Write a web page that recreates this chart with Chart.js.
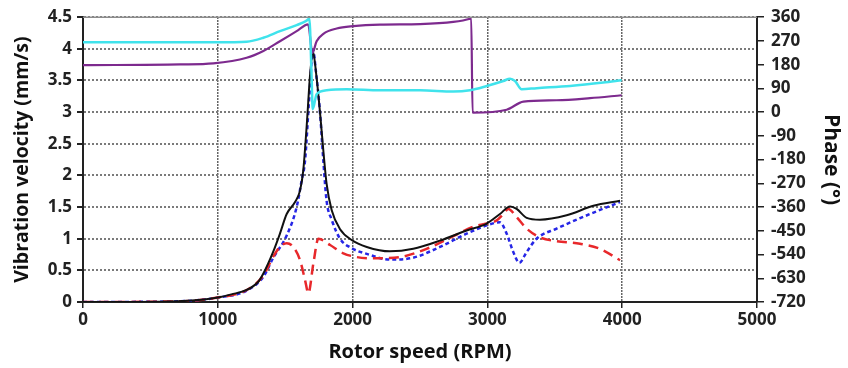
<!DOCTYPE html>
<html>
<head>
<meta charset="utf-8">
<script src="https://cdn.jsdelivr.net/npm/chart.js@4"></script>
<style>
  html, body { margin: 0; padding: 0; background: #fff; }
  #wrap { width: 848px; height: 368px; }
</style>
</head>
<body>
<div id="wrap"><canvas id="rotorChart" width="848" height="368"></canvas></div>
<script>
// Vibration velocity (mm/s), left axis
const rpmBlack = [0, 400, 700, 900, 1000, 1100, 1214, 1300, 1338, 1412, 1461, 1511, 1573, 1610, 1634, 1660, 1685, 1706, 1730, 1758, 1783, 1807, 1845, 1907, 1993, 2105, 2277, 2450, 2648, 2846, 2995, 3093, 3168, 3217, 3291, 3390, 3588, 3786, 3984];
const velBlack = [0, 0, 0.01, 0.04, 0.07, 0.12, 0.19, 0.32, 0.45, 0.8, 1.08, 1.39, 1.58, 1.76, 2.08, 2.8, 3.6, 3.96, 3.6, 3.0, 2.39, 1.87, 1.45, 1.15, 0.98, 0.87, 0.8, 0.84, 0.97, 1.13, 1.24, 1.39, 1.51, 1.47, 1.33, 1.3, 1.37, 1.52, 1.6];

const rpmRed = [0, 700, 1000, 1214, 1338, 1412, 1461, 1511, 1560, 1610, 1647, 1672, 1709, 1746, 1833, 1931, 2030, 2154, 2351, 2549, 2747, 2896, 2995, 3069, 3118, 3155, 3217, 3291, 3390, 3514, 3687, 3835, 3984];
const velRed = [0, 0.01, 0.07, 0.19, 0.42, 0.72, 0.87, 0.93, 0.87, 0.66, 0.35, 0.14, 0.61, 1.0, 0.9, 0.77, 0.71, 0.69, 0.71, 0.84, 1.04, 1.19, 1.24, 1.29, 1.39, 1.47, 1.34, 1.16, 1.02, 0.96, 0.92, 0.84, 0.66];

const rpmBlue = [0, 700, 1000, 1214, 1338, 1412, 1511, 1585, 1622, 1647, 1680, 1706, 1730, 1758, 1783, 1807, 1845, 1907, 1993, 2105, 2277, 2450, 2648, 2846, 2995, 3093, 3143, 3192, 3237, 3291, 3365, 3514, 3761, 3984];
const velBlue = [0, 0.01, 0.07, 0.18, 0.4, 0.7, 1.05, 1.5, 1.92, 2.23, 3.28, 3.98, 3.6, 3.0, 2.23, 1.6, 1.3, 1.0, 0.85, 0.76, 0.67, 0.7, 0.87, 1.08, 1.21, 1.26, 1.08, 0.79, 0.62, 0.79, 1.0, 1.16, 1.39, 1.58];

// Phase (deg), right axis
const rpmCyan = [0, 1000, 1214, 1338, 1461, 1585, 1659, 1679, 1696, 1704, 1733, 1807, 1956, 2203, 2500, 2747, 2871, 2995, 3118, 3168, 3205, 3254, 3365, 3613, 3860, 3996];
const phaseCyan = [265, 265, 267, 282, 307, 330, 347, 355, 131, 11, 68, 83, 87, 83, 83, 78, 83, 99, 118, 127, 118, 87, 91, 99, 112, 121];

const rpmPurple = [0, 720, 967, 1214, 1338, 1461, 1585, 1670, 1702, 1733, 1783, 1882, 2005, 2203, 2500, 2747, 2871, 2880, 2890, 3143, 3267, 3514, 3761, 3996];
const phasePurple = [178, 181, 185, 206, 232, 269, 307, 333, 225, 269, 297, 317, 326, 332, 334, 342, 354, 356, -2, 9, 40, 45, 53, 64];

const xTicksMax = 5000;
const phaseTicks = [-720, 360];

function pts(xs, ys) {
    return xs.map((x, i) => ({ x: x, y: ys[i] }));
}

const fontFam = "'Open Sans', 'DejaVu Sans', sans-serif";
const tickFont = { family: fontFam, size: 17, weight: 'bold' };
const titleFont = { family: fontFam, size: 20, weight: 'bold' };
const plain = v => String(v);

// solid gray line along the top of the plot
const topLine = {
    id: 'topLine',
    afterDraw(chart) {
        const a = chart.chartArea;
        const c = chart.ctx;
        c.save();
        c.strokeStyle = '#8c8c8c';
        c.lineWidth = 1.5;
        c.beginPath();
        c.moveTo(a.left, a.top);
        c.lineTo(a.right, a.top);
        c.stroke();
        c.restore();
    }
};

const ctx = document.getElementById('rotorChart').getContext('2d');
new Chart(ctx, {
    type: 'line',
    data: {
        datasets: [
            { label: 'cyan', data: pts(rpmCyan, phaseCyan), yAxisID: 'y1', borderColor: '#40e3ec', borderWidth: 2.5 },
            { label: 'purple', data: pts(rpmPurple, phasePurple), yAxisID: 'y1', borderColor: '#7d2a8e', borderWidth: 2.2 },
            { label: 'black', data: pts(rpmBlack, velBlack), yAxisID: 'y', borderColor: '#111', borderWidth: 2 },
            { label: 'red', data: pts(rpmRed, velRed), yAxisID: 'y', borderColor: '#e8282b', borderWidth: 2.5, borderDash: [10, 6] },
            { label: 'blue', data: pts(rpmBlue, velBlue), yAxisID: 'y', borderColor: '#2626e6', borderWidth: 2.5, borderDash: [4, 3] }
        ]
    },
    options: {
        responsive: false,
        animation: false,
        layout: { padding: { top: 16, left: 0, right: 0, bottom: 0 } },
        elements: {
            point: { radius: 0 },
            line: { tension: 0.25, cubicInterpolationMode: 'monotone', fill: false }
        },
        plugins: { legend: { display: false }, tooltip: { enabled: false } },
        scales: {
            x: {
                type: 'linear',
                min: 0,
                max: xTicksMax,
                ticks: { stepSize: 1000, color: '#222', padding: 2, maxRotation: 0, font: tickFont, callback: plain },
                grid: {
                    color: c => (c.tick && c.tick.value > 0 && c.tick.value < xTicksMax) ? '#333' : 'rgba(0,0,0,0)',
                    lineWidth: 1.5,
                    tickColor: '#222',
                    tickLength: 6
                },
                border: { color: '#222', width: 2, dash: [1.5, 1.5] },
                title: { display: true, text: 'Rotor speed (RPM)', color: '#111', padding: { top: 4, bottom: 4 }, font: titleFont },
                afterFit: s => { s.height = 66; }
            },
            y: {
                position: 'left',
                min: 0,
                max: 4.5,
                ticks: { stepSize: 0.5, color: '#222', padding: 5, font: tickFont, callback: plain },
                grid: { color: '#7a7a7a', lineWidth: 2, tickColor: '#222', tickLength: 6 },
                border: { color: '#222', width: 2, dash: [2, 2] },
                title: { display: true, text: 'Vibration velocity (mm/s)', color: '#111', padding: { top: 11, bottom: 0 }, font: { family: fontFam, size: 19.5, weight: 'bold' } },
                afterFit: s => { s.width = 83; }
            },
            y1: {
                position: 'right',
                min: phaseTicks[0],
                max: phaseTicks[1],
                ticks: { stepSize: 90, color: '#222', padding: 7, font: tickFont, callback: plain },
                grid: { drawOnChartArea: false, tickColor: '#222', tickLength: 7, lineWidth: 1.5 },
                border: { color: '#222', width: 2 },
                title: { display: true, text: 'Phase (°)', color: '#111', padding: { top: 4, bottom: 0 }, font: { family: fontFam, size: 21, weight: 'bold' } },
                afterFit: s => { s.width = 91; }
            }
        }
    },
    plugins: [topLine]
});
</script>
</body>
</html>
